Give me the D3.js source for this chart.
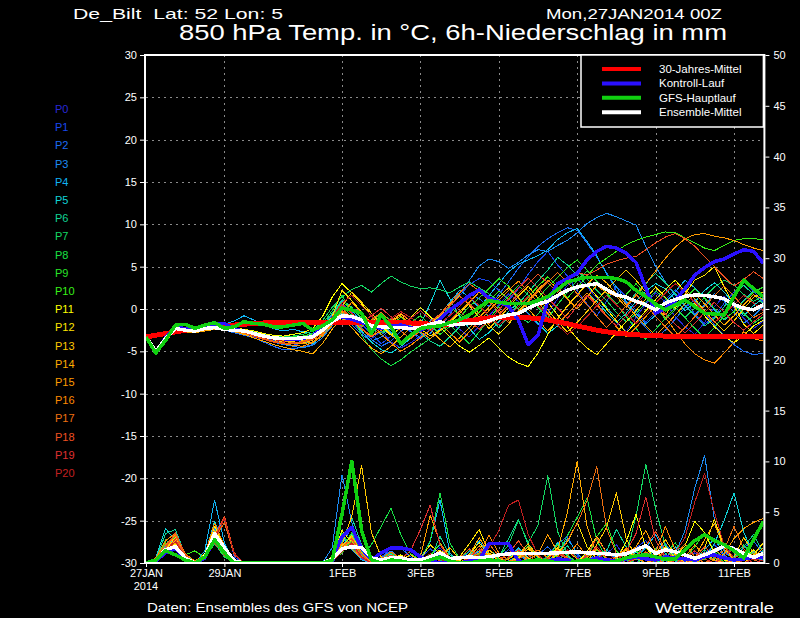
<!DOCTYPE html>
<html>
<head>
<meta charset="utf-8">
<title>De_Bilt GFS Ensemble</title>
<script src="https://cdn.jsdelivr.net/npm/d3@7"></script>
<style>
body { margin: 0; background: #000; }
svg { display: block; }
text { font-family: 'Liberation Sans', 'DejaVu Sans', sans-serif; fill: #fff; }
.tick text { font-size: 11px; }
</style>
</head>
<body>
<div id="chart"></div>
<script>
// ******* Data *******
const tickDates = ['2014-01-27', '2014-01-29', '2014-02-01', '2014-02-03',
                   '2014-02-05', '2014-02-07', '2014-02-09', '2014-02-11'];
const tickLabels = ['27JAN', '29JAN', '1FEB', '3FEB', '5FEB', '7FEB', '9FEB', '11FEB'];
const tempTicks = [-30, -25, -20, -15, -10, -5, 0, 5, 10, 15, 20, 25, 30];
const rainTicks = [0, 5, 10, 15, 20, 25, 30, 35, 40, 45, 50];

const memberNames = ['P0','P1','P2','P3','P4','P5','P6','P7','P8','P9','P10',
                     'P11','P12','P13','P14','P15','P16','P17','P18','P19','P20'];
const memberColors = ['#2828d8','#1848f0','#1c6cf4','#1c8cf4','#10b4f4','#10d4d8','#10d494',
                      '#14d864','#18e044','#28e428','#38f018','#ffff00','#ffe400','#ffc800',
                      '#ffac00','#ff9c00','#ff8a00','#f07010','#f05020','#e03030','#c42020'];

// 850 hPa temperature, 6-hourly from 27JAN2014 00Z
const tempClim = [-3.3,-3.1,-2.9,-2.7,-2.5,-2.35,-2.2,-2.1,
  -2.0,-1.9,-1.8,-1.7,-1.65,-1.65,-1.65,-1.65,
  -1.65,-1.65,-1.65,-1.65,-1.65,-1.65,-1.65,-1.65,
  -1.65,-1.65,-1.65,-1.65,-1.7,-1.8,-1.85,-1.8,
  -1.6,-1.4,-1.2,-1.05,-1.0,-1.0,-1.0,-1.05,
  -1.1,-1.3,-1.5,-1.75,-2.0,-2.25,-2.5,-2.7,
  -2.85,-2.95,-3.05,-3.1,-3.15,-3.2,-3.2,-3.2,
  -3.25,-3.25,-3.25,-3.3,-3.3,-3.3,-3.3,-3.3];
const tempCtrl = [-3.3,-5.1,-3.4,-2.2,-2.3,-2.5,-2.2,-1.8,
  -1.7,-2.4,-2.6,-2.9,-3.2,-3.4,-3.5,-3.6,
  -3.5,-3.2,-2.2,-1.4,-0.9,-1.2,-1.6,-2.0,
  -2.3,-2.0,-1.9,-2.2,-2.5,-2.0,-1.2,-0.1,
  0.7,1.6,2.25,1.3,0.9,0.3,-1.3,-4.2,
  -3.1,1.0,3.0,3.6,4.2,5.8,6.8,7.4,
  7.2,6.6,5.5,2.5,-0.5,0.1,1.0,2.4,
  4.0,4.9,5.6,5.9,6.5,7.0,6.8,5.4];
const tempGfs = [-3.3,-5.2,-3.7,-1.9,-1.8,-2.3,-1.9,-1.6,
  -2.3,-2.1,-1.5,-1.7,-1.8,-2.1,-2.1,-1.9,
  -1.7,-2.5,-2.0,-1.3,0.1,-0.1,-0.5,-2.9,
  -0.7,-2.1,-4.1,-3.1,-2.3,-2.1,-2.0,-1.6,
  -1.3,-0.7,0.2,1.0,0.8,0.65,0.65,0.65,
  1.0,1.45,2.3,3.2,3.5,3.75,3.75,3.75,
  3.6,3.2,2.2,1.45,0.6,-0.1,0.5,1.05,
  0.3,-0.5,-0.6,-0.7,1.5,3.4,2.4,1.45];
const tempMean = [-3.3,-5.0,-3.5,-2.3,-2.5,-2.6,-2.3,-2.2,
  -2.4,-2.5,-2.6,-2.9,-3.2,-3.4,-3.5,-3.5,
  -3.4,-3.3,-2.5,-1.5,-0.8,-0.9,-1.3,-2.0,
  -2.1,-2.2,-2.2,-2.3,-2.2,-1.8,-1.5,-1.9,
  -1.8,-1.7,-1.7,-1.4,-1.0,-0.7,-0.5,0.1,
  0.6,0.9,1.6,2.2,2.6,2.8,3.0,2.3,
  1.65,1.4,0.9,0.5,-0.1,0.7,1.1,1.5,
  1.65,1.6,1.45,1.2,0.5,0.1,-0.1,0.5];

const tempP0 = [-3.3,-5.1,-3.6,-2.4,-2.6,-2.5,-2.2,-2.0,
  -2.3,-2.6,-2.9,-3.3,-3.6,-3.8,-3.9,-3.8,
  -3.6,-3.4,-2.6,-1.2,-0.5,-1.5,-2.8,-3.5,
  -2.6,-3.9,-4.6,-4.0,-3.2,-2.5,-1.8,-1.5,
  -2.4,-3.3,-2.0,-0.8,0.5,1.8,0.9,-0.6,
  -1.9,-0.5,1.2,2.8,3.5,2.6,1.3,0.2,
  -1.5,-2.7,-1.0,0.6,1.9,0.8,-0.9,-2.1,
  -3.0,-1.6,0.3,1.5,0.2,-1.1,-2.3,-1.4];
const tempP1 = [-3.3,-5.0,-3.4,-2.2,-2.4,-2.6,-2.3,-1.9,
  -2.0,-2.4,-2.7,-3.0,-3.4,-3.7,-4.1,-4.3,
  -4.0,-3.6,-2.2,-0.8,0.6,-0.4,-1.8,-2.9,
  -4.1,-3.2,-2.1,-2.7,-3.6,-2.4,-1.1,0.4,
  1.6,2.9,3.6,3.3,2.2,1.0,2.4,4.1,
  5.6,6.8,5.2,3.9,2.1,0.6,-0.8,0.9,
  2.7,1.4,-0.2,-1.6,-0.4,1.1,2.3,1.0,
  -0.6,-1.8,-0.9,0.7,2.0,3.2,2.1,0.8];
const tempP2 = [-3.3,-5.2,-3.7,-2.5,-2.3,-2.4,-2.1,-2.2,
  -2.5,-2.8,-3.1,-3.4,-3.9,-4.4,-4.8,-4.7,
  -4.5,-4.2,-3.0,-1.6,-0.2,-1.0,-2.2,-3.6,
  -4.4,-3.8,-2.6,-1.9,-2.8,-3.5,-2.3,-0.6,
  0.9,1.8,1.2,0.3,1.7,3.2,4.8,6.2,
  7.4,8.3,9.0,9.6,9.3,7.8,6.1,4.3,
  2.2,0.7,-0.9,-2.2,-3.4,-2.5,-1.2,0.2,
  1.1,-0.4,-1.9,-3.1,-4.2,-5.0,-5.4,-5.2];
const tempP3 = [-3.3,-5.0,-3.5,-2.3,-2.5,-2.7,-2.4,-2.1,
  -2.2,-2.5,-2.8,-3.1,-3.5,-3.9,-4.2,-4.4,
  -4.6,-4.3,-3.4,-2.0,-0.9,-1.9,-3.0,-3.8,
  -3.3,-2.4,-1.8,-2.6,-3.4,-2.9,-1.5,0.3,
  1.8,3.4,5.1,5.9,5.6,4.8,5.5,6.4,
  7.0,6.8,7.5,8.1,9.0,10.1,10.8,11.3,
  10.9,10.4,9.9,7.4,5.0,3.2,1.6,0.4,
  -0.7,0.5,1.8,0.9,-0.4,-1.7,-0.8,0.3];
const tempP4 = [-3.3,-4.9,-3.3,-2.0,-2.2,-2.3,-2.0,-1.9,
  -1.8,-1.4,-0.8,-1.3,-1.9,-2.3,-2.6,-2.4,
  -2.7,-2.9,-2.1,-0.6,0.9,-0.2,-1.5,-2.4,
  -1.6,-2.8,-3.9,-3.2,-2.5,-1.4,-0.7,0.8,
  2.2,1.4,0.1,1.6,3.0,4.4,5.3,5.8,
  6.3,7.0,8.2,9.0,9.5,8.0,6.3,4.1,
  2.6,0.9,-0.5,-1.8,-0.7,0.8,2.0,3.4,
  2.5,1.2,-0.1,-1.3,-0.3,1.0,2.2,1.5];
const tempP5 = [-3.3,-5.1,-3.5,-2.3,-2.2,-2.5,-2.3,-2.0,
  -2.1,-2.3,-2.5,-2.8,-3.0,-3.3,-3.5,-3.6,
  -3.9,-4.1,-3.1,-1.7,-0.4,-1.4,-2.6,-3.9,
  -4.8,-5.2,-4.4,-3.5,-1.8,0.6,3.4,1.2,
  -0.9,-2.3,-3.6,-2.8,-1.5,-0.3,0.8,-0.5,
  -1.7,-2.9,-2.0,-0.6,0.7,1.9,0.9,-0.4,
  -1.6,-0.5,0.9,2.1,3.0,2.4,1.1,-0.2,
  0.8,2.2,3.1,2.0,0.6,-0.8,0.4,1.3];
const tempP6 = [-3.3,-5.0,-3.4,-2.2,-2.4,-2.4,-2.1,-1.9,
  -2.2,-2.4,-2.7,-2.9,-3.2,-3.6,-3.8,-3.7,
  -3.5,-3.1,-2.0,-0.5,1.1,0.2,-1.2,-2.3,
  -3.0,-2.2,-1.4,-2.0,-2.9,-3.8,-4.4,-3.3,
  -2.1,-0.8,0.4,-0.9,-2.2,-1.0,0.6,2.0,
  3.3,4.6,6.1,5.2,4.0,2.8,1.5,0.2,
  -1.0,0.4,1.9,3.0,4.2,3.1,1.8,0.5,
  -0.8,-2.0,-1.1,0.3,1.6,2.8,1.7,0.6];
const tempP7 = [-3.3,-5.2,-3.6,-2.1,-2.3,-2.4,-2.0,-1.8,
  -2.0,-2.3,-2.5,-2.7,-2.9,-3.1,-3.3,-3.2,
  -3.0,-2.6,-1.4,0.2,1.4,2.3,2.8,2.0,
  3.0,3.9,3.2,2.7,2.4,2.5,2.3,1.9,
  2.6,3.2,2.5,1.8,0.9,0.1,-0.8,-1.6,
  -0.6,0.9,2.3,3.5,4.4,3.6,2.2,1.0,
  -0.4,-1.5,-0.6,0.8,2.1,1.3,0.2,-1.0,
  0.1,1.4,2.6,3.4,2.8,1.7,0.9,1.6];
const tempP8 = [-3.3,-5.1,-3.7,-2.4,-2.5,-2.6,-2.2,-2.1,
  -2.4,-2.6,-2.8,-3.0,-3.3,-3.5,-3.6,-3.4,
  -3.2,-3.0,-1.8,-0.2,1.6,-0.6,-3.1,-4.8,
  -5.9,-6.7,-6.0,-5.1,-4.3,-3.5,-2.6,-1.9,
  -3.0,-4.1,-2.7,-1.2,0.3,1.5,2.8,1.6,
  0.2,-1.1,0.5,2.0,3.4,4.5,3.3,1.9,
  0.6,-0.9,-2.3,-3.6,-2.4,-1.1,0.2,-1.0,
  -2.3,-3.4,-2.2,-0.8,0.6,-0.5,-1.7,-0.9];
const tempP9 = [-3.3,-5.0,-3.5,-2.2,-2.4,-2.5,-2.2,-2.0,
  -2.2,-2.5,-2.6,-2.8,-3.1,-3.3,-3.4,-3.3,
  -3.2,-2.9,-2.4,-1.0,0.4,-0.8,-2.0,-1.4,
  -0.6,-1.3,-2.3,-1.6,-0.8,-1.9,-3.0,-2.1,
  -1.0,0.3,1.3,2.4,3.6,2.7,1.4,0.1,
  1.3,2.6,3.7,4.9,5.8,4.6,3.2,1.8,
  0.5,1.7,3.0,1.6,0.2,-1.2,-0.1,1.2,
  2.4,1.3,0.1,-1.2,-0.3,0.9,2.0,2.6];
const tempP10 = [-3.3,-5.2,-3.6,-2.3,-2.3,-2.4,-2.1,-1.9,
  -2.1,-2.4,-2.6,-2.9,-3.2,-3.4,-3.6,-3.5,
  -3.3,-3.0,-2.2,-0.9,0.8,0.1,-1.0,-2.1,
  -2.8,-1.9,-1.0,-1.7,-2.5,-1.8,-0.9,0.2,
  -0.6,-1.5,-0.4,0.9,2.1,1.2,0.0,1.4,
  2.7,3.8,2.6,1.3,2.5,3.9,5.2,6.0,
  6.8,7.6,8.1,8.5,8.8,9.1,9.0,8.4,
  7.8,7.2,6.9,7.5,8.1,8.3,8.3,8.2];
const tempP11 = [-3.3,-5.0,-3.4,-2.1,-2.2,-2.3,-2.0,-1.8,
  -1.9,-2.2,-2.4,-2.6,-2.9,-3.1,-3.2,-3.0,
  -2.8,-2.3,-0.9,1.4,3.0,1.9,0.6,-0.8,
  -2.0,-3.1,-2.2,-1.0,0.2,-0.9,-2.1,-3.3,
  -4.4,-5.1,-4.3,-3.4,-4.6,-5.7,-6.4,-6.8,
  -5.2,-3.0,-1.1,0.4,1.7,2.9,1.5,0.0,
  -1.4,-2.8,-1.6,-0.2,1.1,2.3,3.4,2.1,
  0.7,-0.8,-2.1,-3.2,-4.0,-3.1,-2.0,-1.3];
const tempP12 = [-3.3,-5.1,-3.5,-2.2,-2.4,-2.6,-2.3,-2.0,
  -2.1,-2.3,-2.6,-2.9,-3.3,-3.6,-3.9,-3.8,
  -3.7,-3.4,-2.5,-0.9,2.2,1.0,-0.4,-1.6,
  -2.4,-1.5,-0.6,-1.4,-2.3,-3.2,-2.5,-1.6,
  -0.5,0.7,-0.6,-1.9,-3.0,-1.8,-0.4,1.0,
  2.2,0.8,-0.7,-2.1,-3.5,-4.6,-5.4,-4.1,
  -2.8,-1.5,-0.2,1.2,2.6,1.4,0.1,1.8,
  3.4,4.0,5.0,2.6,0.4,-1.8,-2.9,-1.9];
const tempP13 = [-3.3,-5.0,-3.6,-2.4,-2.5,-2.5,-2.2,-2.1,
  -2.3,-2.5,-2.8,-3.1,-3.4,-3.6,-3.7,-3.9,
  -4.0,-3.7,-2.8,-1.3,0.3,2.0,0.8,-0.5,
  -1.8,-3.0,-4.1,-3.4,-2.6,-1.7,-0.8,0.5,
  1.6,0.4,-1.0,-2.3,-1.1,0.2,1.5,2.7,
  1.3,-0.1,-1.5,-2.7,-1.6,-0.3,1.0,2.3,
  3.5,4.6,3.4,2.0,0.6,-0.7,0.9,2.4,
  1.2,-0.2,-1.5,-2.6,-1.4,0.0,1.4,2.0];
const tempP14 = [-3.3,-5.2,-3.8,-2.5,-2.7,-2.8,-2.6,-2.4,
  -2.5,-2.7,-3.0,-3.4,-3.8,-4.2,-4.5,-4.8,
  -5.0,-5.3,-4.1,-2.4,-1.0,-2.2,-3.5,-4.6,
  -5.3,-4.4,-3.3,-2.2,-1.3,-2.4,-3.6,-4.5,
  -3.4,-2.2,-1.0,0.2,1.4,2.5,1.3,0.0,
  -1.3,-2.6,-1.2,0.3,1.6,2.9,4.0,3.1,
  1.8,0.5,-0.8,-2.0,-3.1,-2.0,-0.7,0.6,
  1.8,0.6,-0.7,-1.9,-0.8,0.5,1.7,1.1];
const tempP15 = [-3.3,-5.0,-3.4,-2.3,-2.5,-2.6,-2.3,-2.0,
  -2.2,-2.4,-2.7,-3.0,-3.3,-3.5,-3.8,-4.0,
  -4.1,-3.9,-3.0,-1.6,-0.3,-1.3,-2.4,-3.3,
  -2.5,-1.6,-0.8,-1.8,-2.7,-3.5,-2.6,-1.4,
  -0.3,0.8,2.0,1.1,-0.1,-1.3,-0.2,1.0,
  2.3,3.4,2.4,1.2,0.0,1.4,2.8,1.9,
  1.5,0.2,1.6,3.0,4.5,6.0,7.3,8.3,
  8.8,8.9,8.6,8.4,8.1,7.6,7.2,6.9];
const tempP16 = [-3.3,-5.1,-3.6,-2.4,-2.6,-2.7,-2.5,-2.3,
  -2.4,-2.6,-2.9,-3.2,-3.5,-3.8,-4.1,-4.3,
  -4.4,-4.0,-3.2,-1.9,-0.6,0.8,-0.5,-1.8,
  -3.0,-4.0,-5.0,-4.3,-3.4,-2.5,-1.6,-2.8,
  -3.9,-2.7,-1.4,-0.2,1.0,2.2,3.3,2.1,
  0.8,-0.5,-1.8,-0.6,0.7,1.9,0.6,-0.8,
  -2.1,-3.3,-2.2,-0.9,0.4,-1.0,-2.6,-4.1,
  -5.3,-6.0,-6.4,-5.2,-3.9,-2.7,-3.5,-3.8];
const tempP17 = [-3.3,-5.0,-3.5,-2.3,-2.4,-2.5,-2.2,-2.0,
  -2.3,-2.6,-2.8,-3.1,-3.5,-3.8,-4.0,-4.1,
  -3.8,-3.5,-2.7,-1.4,0.1,-1.0,-2.1,-1.3,
  -0.4,-1.5,-2.6,-3.5,-2.6,-1.5,-0.6,0.7,
  1.9,3.0,2.1,0.9,-0.4,-1.6,-0.5,0.8,
  2.1,3.2,4.3,3.2,1.8,0.5,-0.9,-2.2,
  -1.0,0.4,1.7,0.5,-0.9,-2.1,-3.3,-2.2,
  -0.9,0.3,1.6,2.7,1.5,0.2,-1.0,-0.4];
const tempP18 = [-3.3,-5.2,-3.7,-2.5,-2.5,-2.6,-2.4,-2.2,
  -2.3,-2.5,-2.8,-3.2,-3.6,-3.9,-4.1,-4.0,
  -3.9,-3.6,-2.9,-1.5,-0.1,-1.2,-2.3,-3.2,
  -2.2,-1.3,-0.5,-1.4,-2.3,-1.5,-0.7,0.4,
  1.5,0.6,-0.6,-1.8,-0.7,0.5,1.8,3.0,
  4.1,3.1,2.0,3.3,4.3,4.0,4.6,5.3,
  5.7,6.0,6.2,7.0,7.8,8.5,8.9,8.3,
  7.4,6.2,5.0,3.8,2.7,3.5,4.4,3.6];
const tempP19 = [-3.3,-5.1,-3.5,-2.4,-2.5,-2.6,-2.3,-2.1,
  -2.2,-2.4,-2.6,-2.8,-3.1,-3.4,-3.6,-3.5,
  -3.4,-3.2,-2.5,-1.1,0.5,-0.5,-1.6,-0.8,
  0.1,-0.9,-1.9,-1.1,-0.2,-1.2,-2.2,-1.3,
  -0.2,-1.3,-2.4,-1.3,-0.1,1.2,2.5,3.6,
  2.5,1.3,0.1,-1.1,0.3,1.6,0.4,-0.9,
  -2.0,-0.8,0.5,1.8,0.7,-0.6,-1.8,-2.8,
  -1.7,-0.4,0.8,-0.4,-1.6,-2.5,-1.5,-0.6];
const tempP20 = [-3.3,-5.0,-3.6,-2.3,-2.4,-2.5,-2.2,-2.0,
  -2.2,-2.5,-2.7,-3.0,-3.4,-3.6,-3.8,-3.7,
  -3.5,-3.3,-2.3,-1.0,0.7,1.6,0.4,-0.8,
  -1.9,-1.1,-0.3,-1.0,-1.8,-2.6,-1.7,-0.8,
  0.3,1.4,0.4,-0.8,-1.9,-0.9,0.3,1.5,
  0.4,-0.7,-1.9,-3.0,-2.1,-0.9,0.4,1.6,
  0.5,-0.6,-1.7,-0.5,0.7,1.9,3.0,2.0,
  0.8,-0.4,-1.6,-0.6,0.5,1.6,0.7,-0.2];

// 6h precipitation in mm
const rainCtrl = [0,0.2,1.0,1.4,0.4,0,0.5,2.4,
  1.2,0,0,0,0,0,0,0,
  0,0,0,0.4,2.6,3.5,1.4,0.3,
  1.0,1.5,1.5,1.3,0.6,0.2,0,0,
  0,0.2,0.3,1.9,1.9,1.9,0.2,0,
  0,0.2,0.4,0.3,0,0.2,0.5,0.3,
  0.2,0.4,0.6,0.4,0.3,0.6,0.5,0.4,
  0.3,0.6,0.8,0.5,0.3,0.4,0.6,0.5];
const rainGfs = [0,0.3,1.2,0.8,0.3,0,0.6,2.3,
  1.0,0,0,0,0,0,0,0,
  0,0,0,0.3,4.8,10.0,3.2,0.3,
  0,0.3,0.2,0,0,0.3,0.6,0.2,
  0,0,0.2,0.3,0.2,0,0,0.2,
  0.3,0.2,0,0,0.2,0.3,0.2,0,
  0.2,0.5,0.7,0.8,0.6,0.4,0.4,1.3,
  2.2,2.8,2.2,1.8,1.2,0.5,2.3,4.1];
const rainMean = [0,0.3,1.3,1.6,0.5,0,0.6,2.9,
  1.5,0.2,0,0,0,0,0,0,
  0,0,0,0.4,1.4,1.6,1.5,0.5,
  0.3,0.5,0.5,0.3,0.3,0.6,1.0,0.45,
  0.5,0.6,0.5,0.6,0.8,0.9,0.95,0.95,
  0.95,0.95,1.0,1.05,1.1,1.0,0.95,0.9,
  0.8,0.9,1.3,1.7,0.95,1.3,1.1,0.8,
  0.45,0.8,1.2,1.7,1.4,0.95,0.55,0.95];

const rainP0 = [0,0.3,1.2,1.8,0.4,0,0.6,2.4,
  1.0,0,0,0,0,0,0,0,
  0,0,0,0,1.3,2.0,0.8,0,
  0.6,1.2,0.4,0,0,0.8,1.5,0.3,
  0,0.4,1.1,0.6,0.2,0,0.8,1.6,
  0.5,0,0.3,1.2,0.6,0,0,0.9,
  1.8,0.4,0,0.6,1.4,0.3,0,0.2,
  1.0,0.4,0,0.8,1.6,0.5,0,0.3];
const rainP1 = [0,0.2,0.9,1.5,0.6,0,0.4,3.0,
  4.4,0.6,0,0,0,0,0,0,
  0,0,0,0.3,2.4,1.6,0.4,0,
  0.3,0.8,0.2,0,0.5,1.4,0.6,0,
  0.3,1.1,0.5,0,0.6,1.3,0.4,0,
  0,0.7,1.9,2.6,0.8,0,0.4,1.1,
  0.3,0,1.5,2.2,0.6,0,0.5,0.2,
  0,0.9,1.8,0.7,0,0.4,1.2,0.6];
const rainP2 = [0,0.3,1.4,2.1,0.5,0,0.5,2.8,
  1.5,0,0,0,0,0,0,0,
  0,0,0,0.2,1.9,3.5,1.2,0,
  0.4,1.5,1.5,0.6,0,0.3,0.9,0.4,
  0,0.2,0.6,0.3,0,0.5,1.0,0.4,
  0.8,1.6,0.5,0,0.3,0.9,0.2,0,
  0.6,1.4,0.5,0,0.8,1.9,0.7,0,
  0.4,1.1,0.3,0,0.6,1.5,2.2,0.8];
const rainP3 = [0,0.2,1.0,1.7,0.3,0,0.7,3.4,
  1.8,0,0,0,0,0,0,0,
  0,0,0,1.5,8.7,4.0,0.8,0,
  0.5,1.2,0.4,0,0,0.6,1.1,0.2,
  0,0.5,1.4,0.4,0,0.2,0.7,0.3,
  0,0.4,1.2,0.5,0,0.6,1.3,0.4,
  0,0.3,0.8,1.6,0.5,0,0.9,3.2,
  7.4,10.6,4.3,1.2,0.3,0,0.6,0.2];
const rainP4 = [0,0.4,1.6,2.4,0.7,0,1.2,6.2,
  2.0,0,0,0,0,0,0,0,
  0,0,0,0.4,2.6,1.3,0.3,0,
  0,0.6,0.3,0,0.4,2.1,6.2,1.0,
  0,0.6,2.2,0.8,0,0.4,1.5,0.5,
  0,0.3,0.9,2.4,1.0,0,0.5,1.3,
  0.4,0,0.6,1.5,2.8,0.9,0.2,0,
  0.5,1.3,2.4,0.8,0,0.4,1.1,0.3];
const rainP5 = [0,0.5,3.4,2.2,0.6,0,0.8,4.1,
  1.4,0,0,0,0,0,0,0,
  0,0,0,0.3,1.7,2.8,1.0,0,
  0.3,0.9,0.3,0,0,0.7,1.8,0.4,
  0,0.5,1.2,0.3,0,0.6,1.4,0.4,
  0,0.5,2.0,0.7,0,0.3,0.9,0.2,
  0,0.4,1.1,0.3,0,0.5,1.6,0.6,
  0,0.4,1.9,4.2,6.9,3.0,0.8,0.3];
const rainP6 = [0,0.3,2.9,3.3,0.8,0.2,0.6,2.2,
  0.8,0,0,0,0,0,0,0,
  0,0,0,0.5,2.1,4.5,1.8,0.4,
  0,0.4,0.8,0.3,0,0.4,2.6,0.8,
  0.2,0,0.5,1.3,0.6,2.4,4.3,1.8,
  0.5,0,0.6,1.7,0.5,0,0.4,1.2,
  3.3,1.6,0.4,0,0.7,1.8,0.5,0,
  0.3,0.9,0.3,0,0.5,1.6,2.8,1.0];
const rainP7 = [0,0.4,2.3,1.5,0.3,0,0.5,1.9,
  0.6,0,0,0,0,0,0,0,
  0,0,0,0.2,1.2,2.4,0.7,0,
  0,0.5,0.2,0,0.3,0.8,0.3,0,
  0.4,1.2,0.5,0,0.6,1.8,4.2,2.0,
  3.7,8.6,3.1,0.8,0,0.5,1.4,0.5,
  0,0.7,4.6,9.7,5.4,1.6,0.3,0,
  0.4,1.3,0.5,0,0.7,1.8,0.6,0.2];
const rainP8 = [0,0.3,1.8,2.6,0.5,0,0.7,2.6,
  1.1,0,0,0,0,0,0,0,
  0,0,0,0.4,2.9,1.5,0.6,1.8,
  3.6,5.4,2.8,0.9,0.3,2.2,6.9,2.0,
  0.4,0,0.3,0.9,0.4,0,0.6,1.7,
  0.6,0,0.8,2.7,4.5,6.4,2.2,0.5,
  0,0.4,1.5,0.6,0,0.8,2.0,0.7,
  0,0.5,1.4,0.4,0,0.3,1.0,0.4];
const rainP9 = [0,0.2,1.5,2.0,0.6,0,0.4,2.0,
  0.9,0,0,0,0,0,0,0,
  0,0,0,0.2,1.4,3.0,1.1,0,
  0.4,1.0,0.3,0,0.2,0.7,1.9,0.6,
  0,0.3,0.8,0.3,0,0.5,1.1,0.4,
  0,0.6,1.8,0.6,0,0.4,2.6,3.9,
  1.2,0.3,0,0.5,1.4,0.6,0,0.4,
  1.6,3.0,1.1,0,0.3,0.8,0.3,0];
const rainP10 = [0,0.4,2.0,1.4,0.8,1.2,0.5,2.1,
  0.7,0,0,0,0,0,0,0,
  0,0,0,0.3,1.0,2.2,0.9,0,
  0.3,0.6,0.2,0,0,0.4,1.2,0.3,
  0,0.5,0.9,0.3,0,0.4,1.0,0.3,
  0,0.3,0.7,0.2,0,0.6,1.3,0.4,
  0,0.5,1.2,0.4,0,0.3,0.9,0.3,
  0,0.4,1.0,0.4,0,0.5,1.2,0.5];
const rainP11 = [0,0.3,1.1,1.9,0.4,0,0.9,3.6,
  1.6,0,0,0,0,0,0,0,
  0,0,0,0.6,3.2,2.0,0.5,0,
  0,0.4,0.8,0.3,0,0.5,1.3,0.4,
  0.2,0.9,2.0,0.7,0,0.4,1.2,0.5,
  0,0.5,1.5,0.4,0,1.1,2.6,1.0,
  0.3,2.1,4.8,1.5,0.4,0,0.6,1.7,
  4.1,3.0,1.0,0.3,0,0.5,1.3,0.4];
const rainP12 = [0,0.2,1.3,2.5,0.6,0,0.6,2.9,
  1.2,0,0,0,0,0,0,0,
  0,0,0,0.3,1.6,2.7,0.9,0,
  0.2,0.6,0.3,0,0.4,1.8,0.9,0,
  0.6,1.9,3.3,1.0,0.2,0,0.5,1.4,
  0.6,0,0.9,2.1,4.0,1.6,0.4,0,
  0.5,1.3,0.5,0,0.7,1.6,0.5,0,
  0.6,1.5,4.3,1.6,0.4,0,0.8,2.0];
const rainP13 = [0,0.3,1.0,2.2,0.5,0,0.5,3.2,
  1.4,0,0,0,0,0,0,0,
  0,0,0,0.2,1.8,4.6,9.6,3.0,
  0.6,0,0.3,0.8,0.2,0,0.6,1.5,
  0.4,0,0.5,1.3,0.5,0,0.8,1.9,
  0.7,0,0.5,1.2,0.4,0,1.8,3.5,
  6.9,2.4,0.6,0,0.9,2.3,0.8,0,
  0.4,1.0,0.3,0,0.6,2.5,1.0,0.3];
const rainP14 = [0,0.4,1.4,2.8,0.7,0,0.7,2.5,
  0.9,0,0,0,0,0,0,0,
  0,0,0,0.2,1.1,2.6,1.0,0,
  0.3,0.7,0.3,0,0.3,0.9,0.4,0,
  0.3,0.8,2.5,0.9,0.3,0,0.7,1.6,
  0.6,0,1.2,5.0,10.0,3.6,0.8,0,
  0.5,1.4,0.6,0,0.4,1.2,0.4,0,
  0.5,2.3,3.9,1.4,0.3,0,0.6,1.5];
const rainP15 = [0,0.3,1.2,2.0,0.5,0,0.6,2.7,
  1.1,0,0,0,0,0,0,0,
  0,0,0,0.4,1.5,2.2,0.6,0,
  0.2,0.5,0.2,0,0.6,4.7,2.0,0.5,
  0,0.6,1.7,0.6,0,0.4,1.0,0.3,
  0.9,2.8,1.1,0.3,0,0.5,1.4,0.5,
  0,0.7,1.6,3.2,1.1,0.3,0,0.6,
  1.8,0.7,0.2,0.9,2.4,3.4,4.0,4.4];
const rainP16 = [0,0.5,2.2,2.9,0.9,0.2,0.8,3.9,
  1.7,0.2,0,0,0,0,0,0,
  0,0,0,0.3,2.0,1.4,0.5,0,
  0,0.3,0.6,0.2,0,0.4,1.1,0.3,
  0,0.4,1.0,2.7,1.0,0.3,0,0.5,
  1.3,0.5,0,0.7,1.9,0.7,0.2,0,
  0.6,1.5,0.5,0,1.0,3.6,1.3,0.4,
  0,0.5,1.4,0.5,0,0.4,1.0,0.6];
const rainP17 = [0,0.4,1.8,2.7,0.6,0,0.5,2.3,
  4.0,0.8,0,0,0,0,0,0,
  0,0,0,0.2,1.3,1.9,0.7,0,
  0.4,1.1,0.4,0,0,0.5,1.2,0.4,
  0,0.3,0.8,1.9,0.7,0,0.4,1.0,
  0.3,0,0.6,2.2,3.9,6.1,9.5,3.4,
  0.9,0,0.4,1.1,0.4,0,0.7,1.9,
  0.6,0,0.5,1.3,3.6,1.4,0.3,0];
const rainP18 = [0,0.3,1.5,3.0,0.8,0,0.6,2.6,
  4.6,1.0,0,0,0,0,0,0,
  0,0,0,0.3,1.6,2.4,0.9,0,
  0.3,0.8,0.3,0,0.2,0.6,0.2,0,
  0.5,1.4,0.5,0,0.3,0.9,2.2,0.8,
  0,0.4,1.3,0.5,0,0.8,2.5,1.0,
  0.3,0,0.6,1.7,3.1,1.2,0.4,0,
  0.5,1.6,0.6,0,0.4,1.2,0.4,0.2];
const rainP19 = [0,0.2,1.1,2.4,0.5,0,0.5,2.0,
  0.8,0,0,0,0,0,0,0,
  0,0,0,0.2,1.2,1.8,0.5,0,
  0.2,0.5,0.4,1.2,3.3,5.7,1.8,0.4,
  0,0.5,1.4,0.5,0,0.6,1.3,0.4,
  0,0.5,1.1,0.4,0,0.7,1.6,0.5,
  0.3,1.0,2.9,6.5,2.2,0.6,0,0.5,
  1.2,0.4,0,0.6,1.5,0.5,0,0.3];
const rainP20 = [0,0.3,1.3,2.1,0.6,0,0.4,2.3,
  4.4,0.9,0,0,0,0,0,0,
  0,0,0,0.2,1.1,2.0,0.6,0,
  0.3,0.6,0.2,0,0.3,0.9,0.4,0,
  0,0.4,0.8,1.5,3.2,5.7,6.2,2.8,
  0.8,0,0.5,1.3,0.5,0,0.4,1.0,
  0.3,0,0.5,0.4,0,1.3,1.0,2.5,
  6.0,8.8,5.0,1.7,0.5,0,0.4,0.2];

const memberTemps = [tempP0, tempP1, tempP2, tempP3, tempP4, tempP5, tempP6, tempP7, tempP8, tempP9, tempP10,
                     tempP11, tempP12, tempP13, tempP14, tempP15, tempP16, tempP17, tempP18, tempP19, tempP20];
const memberRains = [rainP0, rainP1, rainP2, rainP3, rainP4, rainP5, rainP6, rainP7, rainP8, rainP9, rainP10,
                     rainP11, rainP12, rainP13, rainP14, rainP15, rainP16, rainP17, rainP18, rainP19, rainP20];

// ******* Constants *******
const width = 800,
      height = 618,
      plot = { left: 146, right: 763.4, top: 55, bottom: 563 };

const startTime = Date.UTC(2014, 0, 27, 0);
const times = tempMean.map((d, i) => new Date(startTime + i * 6 * 3600 * 1000));

// ******* Scales *******
const x = d3.scaleUtc()
            .domain([times[0], times[times.length - 1]])
            .range([plot.left, plot.right]);
const yT = d3.scaleLinear().domain([-30, 30]).range([plot.bottom, plot.top]);
const yR = d3.scaleLinear().domain([0, 50]).range([plot.bottom, plot.top]);
const tickTimes = tickDates.map(d => new Date(d + 'T00:00:00Z'));

// ******* Create SVG *******
const svg = d3.select('#chart').append('svg')
              .attr('width', width)
              .attr('height', height)
              .style('background', '#000');

svg.append('clipPath').attr('id', 'plotclip')
   .append('rect')
   .attr('x', plot.left).attr('y', plot.top)
   .attr('width', plot.right - plot.left).attr('height', plot.bottom - plot.top);

// Grid
const grid = svg.append('g')
                .attr('stroke', '#8a8a8a')
                .attr('stroke-width', 1)
                .attr('stroke-dasharray', '2,4')
                .attr('shape-rendering', 'crispEdges');
grid.selectAll('line.h')
    .data(tempTicks.filter(t => t > -30 && t < 30))
    .join('line').attr('class', 'h')
    .attr('x1', plot.left).attr('x2', plot.right)
    .attr('y1', d => Math.round(yT(d)) + 0.5).attr('y2', d => Math.round(yT(d)) + 0.5);
grid.selectAll('line.v')
    .data(tickTimes.slice(1))
    .join('line').attr('class', 'v')
    .attr('x1', d => Math.round(x(d)) + 0.5).attr('x2', d => Math.round(x(d)) + 0.5)
    .attr('y1', plot.top).attr('y2', plot.bottom);

// Lines (aliased like the original plot)
const tempLine = d3.line().x((d, i) => x(times[i])).y(d => yT(d));
const rainLine = d3.line().x((d, i) => x(times[i])).y(d => yR(d));

const lines = svg.append('g')
                 .attr('clip-path', 'url(#plotclip)')
                 .attr('fill', 'none')
                 .attr('stroke-linejoin', 'round')
                 .attr('shape-rendering', 'crispEdges');

memberTemps.forEach(function(series, k) {
  lines.append('path').attr('d', tempLine(series))
       .attr('stroke', memberColors[k]).attr('stroke-width', 1);
  lines.append('path').attr('d', rainLine(memberRains[k]))
       .attr('stroke', memberColors[k]).attr('stroke-width', 1);
});

lines.append('path').attr('d', tempLine(tempClim)).attr('stroke', '#ff0000').attr('stroke-width', 5);
lines.append('path').attr('d', tempLine(tempCtrl)).attr('stroke', '#2a10ff').attr('stroke-width', 3.5);
lines.append('path').attr('d', rainLine(rainCtrl)).attr('stroke', '#2a10ff').attr('stroke-width', 3.5);
lines.append('path').attr('d', tempLine(tempMean)).attr('stroke', '#ffffff').attr('stroke-width', 3.5);
lines.append('path').attr('d', rainLine(rainMean)).attr('stroke', '#ffffff').attr('stroke-width', 3.5);
lines.append('path').attr('d', tempLine(tempGfs)).attr('stroke', '#10d010').attr('stroke-width', 3.5);
lines.append('path').attr('d', rainLine(rainGfs)).attr('stroke', '#10d010').attr('stroke-width', 3.5);

// Frame
svg.append('rect')
   .attr('x', plot.left - 1).attr('y', plot.top)
   .attr('width', plot.right - plot.left + 2).attr('height', plot.bottom - plot.top)
   .attr('fill', 'none').attr('stroke', '#fff').attr('stroke-width', 2);

// Axes
svg.append('g')
   .attr('transform', `translate(${plot.left - 2}, 0)`)
   .attr('color', '#fff')
   .call(d3.axisLeft(yT).tickValues(tempTicks).tickSize(4).tickPadding(3).tickFormat(d => String(d)))
   .call(g => g.select('.domain').remove());
svg.append('g')
   .attr('transform', `translate(${plot.right + 2}, 0)`)
   .attr('color', '#fff')
   .call(d3.axisRight(yR).tickValues(rainTicks).tickSize(4).tickPadding(4).tickFormat(d => String(d)))
   .call(g => g.select('.domain').remove());
svg.append('g')
   .attr('transform', `translate(0, ${plot.bottom + 1})`)
   .attr('color', '#fff')
   .call(d3.axisBottom(x).tickValues(tickTimes).tickSize(3).tickPadding(2)
           .tickFormat((d, i) => tickLabels[i]))
   .call(g => g.select('.domain').remove());
svg.append('text')
   .attr('x', x(tickTimes[0])).attr('y', 590)
   .attr('text-anchor', 'middle').style('font-size', '11px')
   .text('2014');

// Member labels
svg.append('g').selectAll('text')
   .data(memberNames)
   .join('text')
   .attr('x', 55)
   .attr('y', (d, i) => 113 + i * 18.2)
   .style('font-size', '11px')
   .style('fill', (d, i) => memberColors[i])
   .text(d => d);

// Legend
const legendItems = ['30-Jahres-Mittel', 'Kontroll-Lauf', 'GFS-Hauptlauf', 'Ensemble-Mittel'];
const legendColors = ['#ff0000', '#2a10ff', '#10d010', '#ffffff'];
const legend = svg.append('g');
legend.append('rect')
      .attr('x', 581).attr('y', plot.top).attr('width', plot.right - 581).attr('height', 72)
      .attr('fill', '#000').attr('stroke', '#fff').attr('stroke-width', 1.5);
legend.selectAll('line')
      .data(legendItems)
      .join('line')
      .attr('x1', 602).attr('x2', 641)
      .attr('y1', (d, i) => 69 + i * 14.4).attr('y2', (d, i) => 69 + i * 14.4)
      .attr('stroke', (d, i) => legendColors[i]).attr('stroke-width', 4);
legend.selectAll('text')
      .data(legendItems)
      .join('text')
      .attr('x', 659)
      .attr('y', (d, i) => 73 + i * 14.4)
      .style('font-size', '11.5px')
      .text(d => d);

// Titles
svg.append('text')
   .attr('x', 73).attr('y', 19)
   .style('font-size', '15px').style('white-space', 'pre')
   .attr('textLength', 210).attr('lengthAdjust', 'spacingAndGlyphs')
   .text('De_Bilt  Lat: 52 Lon: 5');
svg.append('text')
   .attr('x', 546).attr('y', 19)
   .style('font-size', '15px')
   .attr('textLength', 176).attr('lengthAdjust', 'spacingAndGlyphs')
   .text('Mon,27JAN2014 00Z');
svg.append('text')
   .attr('x', 179).attr('y', 40)
   .style('font-size', '22px')
   .attr('textLength', 548).attr('lengthAdjust', 'spacingAndGlyphs')
   .text('850 hPa Temp. in °C, 6h-Niederschlag in mm');
svg.append('text')
   .attr('x', 147).attr('y', 612)
   .style('font-size', '12px')
   .attr('textLength', 261).attr('lengthAdjust', 'spacingAndGlyphs')
   .text('Daten: Ensembles des GFS von NCEP');
svg.append('text')
   .attr('x', 655).attr('y', 613)
   .style('font-size', '14px')
   .attr('textLength', 119).attr('lengthAdjust', 'spacingAndGlyphs')
   .text('Wetterzentrale');
</script>
</body>
</html>
